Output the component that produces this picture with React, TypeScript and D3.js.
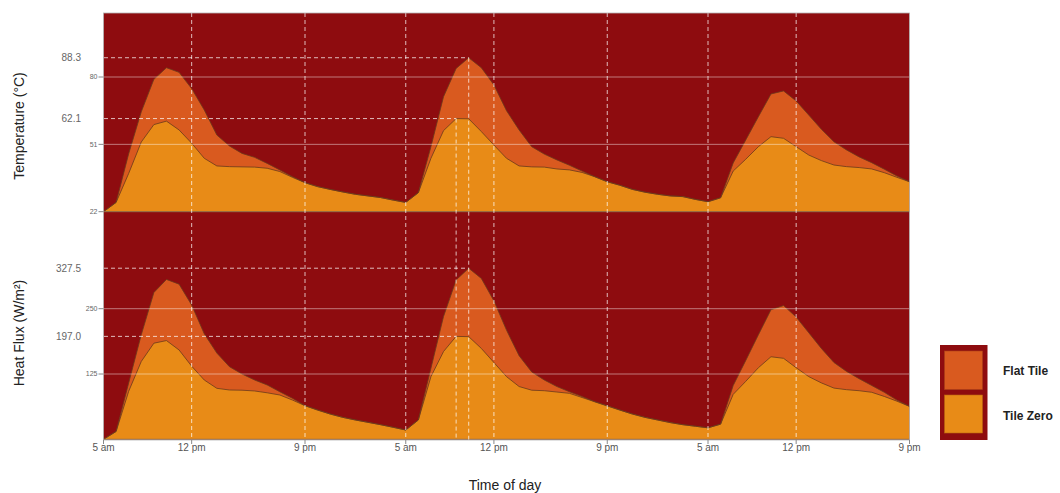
import React from "react";
import * as d3 from "d3";

// hours since 5 am of day 1
const hours = [
  0, 1, 2, 3, 4, 5, 6, 7, 8, 9, 10, 11, 12, 13, 14, 15, 16, 17, 18, 19, 20, 21, 22, 23, 24,
  25, 26, 27, 28, 29, 30, 31, 32, 33, 34, 35, 36, 37, 38, 39, 40, 41, 42, 43, 44, 45, 46, 47, 48,
  49, 50, 51, 52, 53, 54, 55, 56, 57, 58, 59, 60, 61, 62, 63, 64,
];

const tempFlat = [
  22, 26, 47, 65, 79, 84, 82, 75, 65.8, 55, 50.3, 47.1, 45.4, 42.8, 40, 37.1, 34.5, 32.8, 31.6, 30.5, 29.5, 28.8, 28.1, 27, 26,
  30.2, 50, 71.5, 83.7, 88.3, 84, 76.6, 65.5, 57.2, 50, 46.8, 44.3, 42, 39.5, 37.1, 34.9, 33.4, 31.6, 30.4, 29.5, 28.8, 28.5, 27.3, 26.3,
  28, 43, 52.9, 62.9, 72.7, 74, 69.7, 63.6, 57.5, 52.1, 48.6, 45.6, 43.1, 40.3, 37.4, 34.9,
];
const tempZero = [
  22, 26, 38.5, 52, 59.5, 61, 57.2, 51.5, 45, 41.7, 41.4, 41.3, 41.2, 40.7, 39.3, 36.8, 34.5, 32.8, 31.6, 30.5, 29.5, 28.8, 28.1, 27, 26,
  30.2, 45, 56.9, 62.1, 62.0, 56.5, 50.7, 45, 41.7, 41.3, 41.2, 40.4, 40, 38.9, 37.1, 34.9, 33.4, 31.6, 30.4, 29.5, 28.8, 28.5, 27.3, 26.3,
  28, 39.5, 44.6, 50, 54.3, 53.6, 50, 46.4, 44, 42.1, 41.4, 41, 40.4, 38.8, 36.8, 34.9,
];
const fluxFlat = [
  0, 15, 108, 200, 281, 306, 297, 257, 202, 165, 139, 125, 113.5, 104, 91, 78.5, 64.4, 56, 48.4, 42, 37, 32.5, 28, 23, 17.8,
  37, 136, 235, 305, 327.5, 308, 265, 209, 160, 129, 113.5, 101, 91, 82, 72, 64, 56, 48.4, 42, 37, 32, 28, 25, 22,
  29, 103, 151, 200, 248, 256, 234, 204, 174, 147, 130, 116, 103, 90, 75, 63,
];
const fluxZero = [
  0, 15, 92, 149, 184, 189, 171, 140, 113.5, 97.6, 94.4, 94, 92.5, 89, 84.8, 75.2, 64.4, 56, 48.4, 42, 37, 32.5, 28, 23, 17.8,
  37, 120, 168, 197, 196.5, 174, 147, 120, 101, 94, 93, 90.5, 88, 80, 72, 64, 56, 48.4, 42, 37, 32, 28, 25, 22,
  29, 86, 111, 137, 158, 155, 137, 120, 108, 98, 95, 93, 90, 82, 73, 63,
];

const xTickHours = [0, 7, 16, 24, 31, 40, 48, 55, 64];
const xTickLabels = ["5 am", "12 pm", "9 pm", "5 am", "12 pm", "9 pm", "5 am", "12 pm", "9 pm"];
const tempTicks = [22, 51, 80];
const fluxTicks = [125, 250];
const tempPeaks = [
  { v: 88.3, h: 29, label: "88.3" },
  { v: 62.1, h: 28, label: "62.1" },
];
const fluxPeaks = [
  { v: 327.5, h: 29, label: "327.5" },
  { v: 197.0, h: 28, label: "197.0" },
];
const seriesNames = ["Flat Tile", "Tile Zero"];

const BG = "#8e0c0f";
const FLAT = "#d95a1f";
const ZERO = "#e88b17";
const EDGE = "#6a3a1c";
const FONT = "'Liberation Sans', Arial, sans-serif";

export default function App() {
  const x = d3.scaleLinear().domain([0, 64]).range([103.5, 909.5]);
  const yT = d3.scaleLinear().domain([22, 80]).range([211.7, 77]);
  const yH = d3.scaleLinear().domain([0, 250]).range([439.3, 308.7]);
  const top = 13;
  const bottom = 440;
  const left = x(0);
  const right = x(64);

  const mk = (vals: number[], y: d3.ScaleLinear<number, number>, base: number) => {
    const pts = hours.map((h, i) => [h, vals[i]] as [number, number]);
    const area = d3
      .area<[number, number]>()
      .x((d) => x(d[0]))
      .y0(y(base))
      .y1((d) => y(d[1]))(pts) as string;
    const line = d3
      .line<[number, number]>()
      .x((d) => x(d[0]))
      .y((d) => y(d[1]))(pts) as string;
    return { area, line };
  };

  const tF = mk(tempFlat, yT, 22);
  const tZ = mk(tempZero, yT, 22);
  const hF = mk(fluxFlat, yH, 0);
  const hZ = mk(fluxZero, yH, 0);

  const grid = "rgba(255,255,255,0.45)";
  const dash = "rgba(255,255,255,0.72)";

  return (
    <svg
      width={1060}
      height={493}
      style={{ position: "absolute", left: 0, top: 0, display: "block", background: "#fff" }}
      fontFamily={FONT}
    >
      <rect x={left} y={top} width={right - left} height={bottom - top} fill={BG} />

      {/* areas */}
      <path d={tF.area} fill={FLAT} />
      <path d={tZ.area} fill={ZERO} />
      <path d={tF.line} fill="none" stroke={EDGE} strokeWidth={0.8} />
      <path d={tZ.line} fill="none" stroke={EDGE} strokeWidth={0.8} />
      <path d={hF.area} fill={FLAT} />
      <path d={hZ.area} fill={ZERO} />
      <path d={hF.line} fill="none" stroke={EDGE} strokeWidth={0.8} />
      <path d={hZ.line} fill="none" stroke={EDGE} strokeWidth={0.8} />

      {/* solid horizontal grid */}
      {tempTicks.map((t) => (
        <line key={"tg" + t} x1={left} x2={right} y1={yT(t)} y2={yT(t)} stroke={t === 22 ? "#8a6a4a" : grid} strokeWidth={1} />
      ))}
      {fluxTicks.map((t) => (
        <line key={"hg" + t} x1={left} x2={right} y1={yH(t)} y2={yH(t)} stroke={grid} strokeWidth={1} />
      ))}
      <line x1={left} x2={right} y1={yH(0)} y2={yH(0)} stroke="#8a6a4a" strokeWidth={1} />

      {/* vertical dashed grid */}
      {xTickHours.slice(1, -1).map((h) => (
        <line key={"vg" + h} x1={x(h)} x2={x(h)} y1={top} y2={bottom} stroke={dash} strokeWidth={1} strokeDasharray="4,3" />
      ))}

      {/* peak reference lines */}
      {tempPeaks.map((p) => (
        <g key={"tp" + p.label}>
          <line x1={83} x2={x(p.h)} y1={yT(p.v)} y2={yT(p.v)} stroke={dash} strokeDasharray="4,3" />
          <line x1={x(p.h)} x2={x(p.h)} y1={yT(p.v)} y2={bottom} stroke={dash} strokeDasharray="4,3" />
          <text x={81} y={yT(p.v)} dy="0.35em" textAnchor="end" fontSize={10} fill="#666">
            {p.label}
          </text>
        </g>
      ))}
      {fluxPeaks.map((p) => (
        <g key={"hp" + p.label}>
          <line x1={83} x2={x(p.h)} y1={yH(p.v)} y2={yH(p.v)} stroke={dash} strokeDasharray="4,3" />
          <text x={81} y={yH(p.v)} dy="0.35em" textAnchor="end" fontSize={10} fill="#666">
            {p.label}
          </text>
        </g>
      ))}

      {/* frame */}
      <rect x={left} y={top} width={right - left} height={bottom - top} fill="none" stroke="#b5b5b5" strokeWidth={0.8} />

      {/* y ticks */}
      {tempTicks.map((t) => (
        <g key={"tt" + t}>
          <line x1={left - 5} x2={left} y1={yT(t)} y2={yT(t)} stroke="#888" />
          <text x={left - 6} y={yT(t)} dy="0.35em" textAnchor="end" fontSize={7} fill="#666">
            {t}
          </text>
        </g>
      ))}
      {fluxTicks.map((t) => (
        <g key={"ht" + t}>
          <line x1={left - 5} x2={left} y1={yH(t)} y2={yH(t)} stroke="#888" />
          <text x={left - 6} y={yH(t)} dy="0.35em" textAnchor="end" fontSize={7} fill="#666">
            {t}
          </text>
        </g>
      ))}

      {/* x ticks */}
      {xTickHours.map((h, i) => (
        <g key={"xt" + i}>
          <line x1={x(h)} x2={x(h)} y1={bottom} y2={bottom + 4} stroke="#888" />
          <text x={x(h)} y={bottom + 11} textAnchor="middle" fontSize={10} fill="#555">
            {xTickLabels[i]}
          </text>
        </g>
      ))}

      {/* axis titles */}
      <text transform="translate(24,126) rotate(-90)" textAnchor="middle" fontSize={14} fill="#222">
        Temperature (°C)
      </text>
      <text transform="translate(24,333) rotate(-90)" textAnchor="middle" fontSize={14} fill="#222">
        Heat Flux (W/m²)
      </text>
      <text x={505} y={490} textAnchor="middle" fontSize={14} fill="#222">
        Time of day
      </text>

      {/* legend */}
      <rect x={940} y={345} width={47.5} height={95} fill={BG} />
      <rect x={944.5} y={351} width={38} height={38.5} fill={FLAT} stroke="#a8401a" strokeWidth={0.6} />
      <rect x={944.5} y={395} width={38} height={38} fill={ZERO} stroke="#b8650f" strokeWidth={0.6} />
      <text x={1003} y={371} dy="0.35em" fontSize={12} fontWeight="bold" fill="#222">
        {seriesNames[0]}
      </text>
      <text x={1003} y={416} dy="0.35em" fontSize={12} fontWeight="bold" fill="#222">
        {seriesNames[1]}
      </text>
    </svg>
  );
}
